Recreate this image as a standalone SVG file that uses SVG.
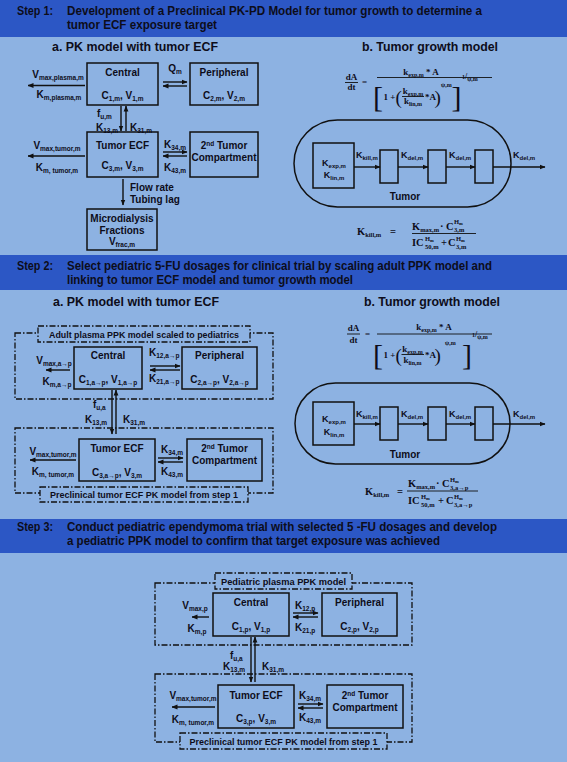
<svg xmlns="http://www.w3.org/2000/svg" width="567" height="762" viewBox="0 0 567 762">
<defs>
<marker id="ah" markerWidth="6" markerHeight="6" refX="5.5" refY="3" orient="auto" markerUnits="userSpaceOnUse"><path d="M0,0.6 L6,3 L0,5.4 z" fill="#111"/></marker>
<style>
.bg{fill:#8DB2E2}
.hd{fill:#2C57C5}
text{font-family:"Liberation Sans",Arial,sans-serif;font-weight:bold;fill:#0D0D1A}
.h{font-size:12.5px}
.p{font-size:12.5px}
.L{font-size:10px}
.s{font-size:6.5px}
.k{font-size:9px}
.ks{font-size:6px}
.M{font-family:"Liberation Serif","Times New Roman",serif;font-size:9px}
.ms{font-size:6px}
.E{font-family:"Liberation Serif","Times New Roman",serif;font-size:10.5px}
.es{font-size:6.5px}
.br{font-family:"Liberation Serif","Times New Roman",serif;font-weight:normal}
.bx{fill:none;stroke:#111;stroke-width:1.5}
.dd{fill:none;stroke:#111;stroke-width:1.3;stroke-dasharray:6 2 1.5 2}
.lb{fill:#8DB2E2;stroke:#111;stroke-width:1.3;stroke-dasharray:6 2 1.5 2}
.ar{stroke:#111;stroke-width:1.4;fill:none;marker-end:url(#ah)}
.bar{stroke:#111;stroke-width:0.9}
.tm{fill:none;stroke:#111;stroke-width:1.5}
</style>
</defs>
<rect class="bg" x="0" y="0" width="567" height="762"/>
<!-- headers -->
<g id="step1-header">
<rect class="hd" x="0" y="0" width="567" height="37"/>
<text class="h" x="17" y="15" textLength="36" lengthAdjust="spacingAndGlyphs">Step 1:</text>
<text class="h" x="67" y="15" textLength="415" lengthAdjust="spacingAndGlyphs">Development of a Preclinical PK-PD Model for tumor growth to determine a</text>
<text class="h" x="67" y="29" textLength="150" lengthAdjust="spacingAndGlyphs">tumor ECF exposure target</text>
</g>
<g id="step2-header">
<rect class="hd" x="0" y="255" width="567" height="35"/>
<text class="h" x="17" y="270" textLength="36" lengthAdjust="spacingAndGlyphs">Step 2:</text>
<text class="h" x="67" y="270" textLength="425" lengthAdjust="spacingAndGlyphs">Select pediatric 5-FU dosages for clinical trial by scaling adult PPK model and</text>
<text class="h" x="67" y="284" textLength="286" lengthAdjust="spacingAndGlyphs">linking to tumor ECF model and tumor growth model</text>
</g>
<g id="step3-header">
<rect class="hd" x="0" y="519" width="567" height="34"/>
<text class="h" x="17" y="531" textLength="36" lengthAdjust="spacingAndGlyphs">Step 3:</text>
<text class="h" x="67" y="531" textLength="430" lengthAdjust="spacingAndGlyphs">Conduct pediatric ependymoma trial with selected 5 -FU dosages and develop</text>
<text class="h" x="67" y="545" textLength="373" lengthAdjust="spacingAndGlyphs">a pediatric PPK model to confirm that target exposure was achieved</text>
</g>
<!-- panel titles -->
<text class="p" x="52" y="51" textLength="166" lengthAdjust="spacingAndGlyphs">a. PK model with tumor ECF</text>
<text class="p" x="362" y="51" textLength="136" lengthAdjust="spacingAndGlyphs">b. Tumor growth model</text>
<text class="p" x="53" y="306" textLength="166" lengthAdjust="spacingAndGlyphs">a. PK model with tumor ECF</text>
<text class="p" x="364" y="306" textLength="136" lengthAdjust="spacingAndGlyphs">b. Tumor growth model</text>

<!-- ================= STEP 1 LEFT ================= -->
<g id="s1-central">
<rect class="bx" x="87" y="63" width="71" height="42"/>
<text class="L" x="122.5" y="76" text-anchor="middle">Central</text>
<text class="L" x="122.5" y="99" text-anchor="middle">C<tspan class="s" dy="2">1,m</tspan><tspan dy="-2">, V</tspan><tspan class="s" dy="2">1,m</tspan></text>
</g>
<g id="s1-peripheral">
<rect class="bx" x="190" y="63" width="68" height="42"/>
<text class="L" x="224" y="76" text-anchor="middle">Peripheral</text>
<text class="L" x="224" y="99" text-anchor="middle">C<tspan class="s" dy="2">2,m</tspan><tspan dy="-2">, V</tspan><tspan class="s" dy="2">2,m</tspan></text>
</g>
<g id="s1-tumorecf">
<rect class="bx" x="87" y="132" width="71" height="45"/>
<text class="L" x="122.5" y="149" text-anchor="middle">Tumor ECF</text>
<text class="L" x="122.5" y="169" text-anchor="middle">C<tspan class="s" dy="2">3,m</tspan><tspan dy="-2">, V</tspan><tspan class="s" dy="2">3,m</tspan></text>
</g>
<g id="s1-tumor2">
<rect class="bx" x="190" y="132" width="68" height="45"/>
<text class="L" x="224" y="149" text-anchor="middle">2<tspan class="s" dy="-3.5">nd</tspan><tspan dy="3.5"> Tumor</tspan></text>
<text class="L" x="224" y="161" text-anchor="middle">Compartment</text>
</g>
<g id="s1-microdialysis">
<rect class="bx" x="87" y="209" width="70" height="41"/>
<text class="L" x="122" y="222" text-anchor="middle">Microdialysis</text>
<text class="L" x="122" y="234" text-anchor="middle">Fractions</text>
<text class="L" x="122" y="245" text-anchor="middle">V<tspan class="s" dy="2">frac,m</tspan></text>
</g>
<g id="s1-connectors">
<line class="ar" x1="163" y1="82" x2="187" y2="82"/>
<line class="ar" x1="187" y1="86" x2="163" y2="86"/>
<line class="ar" x1="85" y1="85.5" x2="28" y2="85.5"/>
<line class="ar" x1="121" y1="106" x2="121" y2="131"/>
<line class="ar" x1="126" y1="131" x2="126" y2="106"/>
<line class="ar" x1="163" y1="152" x2="187" y2="152"/>
<line class="ar" x1="187" y1="156" x2="163" y2="156"/>
<line class="ar" x1="85" y1="156" x2="28" y2="156"/>
<line class="ar" x1="123" y1="179" x2="123" y2="205"/>
</g>
<g id="s1-labels">
<text class="L" x="175" y="72" text-anchor="middle">Q<tspan class="s" dy="2">m</tspan></text>
<text class="L" x="58" y="78" text-anchor="middle">V<tspan class="s" dy="2">max,plasma,m</tspan></text>
<text class="L" x="59" y="98" text-anchor="middle">K<tspan class="s" dy="2">m,plasma,m</tspan></text>
<text class="L" x="97" y="117">f<tspan class="s" dy="2">u,m</tspan></text>
<text class="L" x="96" y="131">K<tspan class="s" dy="2">13,m</tspan></text>
<text class="L" x="130" y="131">K<tspan class="s" dy="2">31,m</tspan></text>
<text class="L" x="164" y="148">K<tspan class="s" dy="2">34,m</tspan></text>
<text class="L" x="164" y="171">K<tspan class="s" dy="2">43,m</tspan></text>
<text class="L" x="57" y="149" text-anchor="middle">V<tspan class="s" dy="2">max,tumor,m</tspan></text>
<text class="L" x="57" y="171" text-anchor="middle">K<tspan class="s" dy="2">m, tumor,m</tspan></text>
<text class="L" x="130" y="191">Flow rate</text>
<text class="L" x="130" y="203">Tubing lag</text>
</g>

<!-- ================= STEP 1 RIGHT ================= -->
<g id="s1-equation">
<text class="M" x="351.5" y="80" text-anchor="middle">dA</text>
<line class="bar" x1="345" y1="82.5" x2="358" y2="82.5"/>
<text class="M" x="351.5" y="90" text-anchor="middle">dt</text>
<text class="M" x="362" y="85">=</text>
<text class="M" x="421" y="75" text-anchor="middle">k<tspan class="ms" dy="1.5">exp,m</tspan><tspan dy="-1.5"> * A</tspan></text>
<line class="bar" x1="377" y1="77.5" x2="492" y2="77.5"/>
<text class="br" x="373" y="106.6" font-size="30">[</text>
<text class="M" x="383.5" y="100">1 +</text>
<text class="br" x="395.5" y="103.5" font-size="19">(</text>
<text class="M" x="413" y="94" text-anchor="middle">k<tspan class="ms" dy="1.5">exp,m</tspan></text>
<line class="bar" x1="402" y1="96.5" x2="424" y2="96.5"/>
<text class="M" x="413" y="104" text-anchor="middle">k<tspan class="ms" dy="1.5">lin,m</tspan></text>
<text class="M" x="425" y="100" font-size="8">*A</text>
<text class="br" x="434.5" y="103.5" font-size="19">)</text>
<text class="M ms" x="441" y="87">ψ,m</text>
<text class="br" x="451.5" y="106.6" font-size="30">]</text>
<text class="M" x="462" y="79"><tspan class="ms">1</tspan><tspan font-size="8">/</tspan><tspan class="ms" dy="1.5">ψ,m</tspan></text>
</g>
<g id="s1-tumor">
<rect class="tm" x="294" y="120" width="217" height="87" rx="43.5"/>
<text class="L" x="405" y="200" text-anchor="middle">Tumor</text>
</g>
<g id="s1-kexp">
<rect class="bx" x="313" y="143" width="41" height="45"/>
<text class="k" x="334" y="166" text-anchor="middle">K<tspan class="ks" dy="2">exp,m</tspan></text>
<text class="k" x="334" y="178" text-anchor="middle">K<tspan class="ks" dy="2">lin,m</tspan></text>
</g>
<g id="s1-transit1"><rect class="bx" x="380" y="150" width="18" height="33"/></g>
<g id="s1-transit2"><rect class="bx" x="428" y="150" width="18" height="33"/></g>
<g id="s1-transit3"><rect class="bx" x="475" y="150" width="18" height="33"/></g>
<g id="s1-tumor-connectors">
<line class="ar" x1="354" y1="167" x2="380" y2="167"/>
<line class="ar" x1="398" y1="167" x2="428" y2="167"/>
<line class="ar" x1="446" y1="167" x2="475" y2="167"/>
<line class="ar" x1="493" y1="167" x2="545" y2="167"/>
<text class="k" x="356" y="158">K<tspan class="ks" dy="2">kill,m</tspan></text>
<text class="k" x="401" y="158">K<tspan class="ks" dy="2">del,m</tspan></text>
<text class="k" x="449" y="158">K<tspan class="ks" dy="2">del,m</tspan></text>
<text class="k" x="513" y="158">K<tspan class="ks" dy="2">del,m</tspan></text>
</g>
<g id="s1-kkill">
<text class="E" x="357" y="235">K<tspan class="es" dy="2">kill,m</tspan></text>
<text class="E" x="390" y="235">=</text>
<text class="E" x="412" y="229.5">K<tspan class="es" dy="2">max,m</tspan></text>
<text class="E" x="440" y="229.5">·</text>
<text class="E" x="446" y="229.5">C</text>
<text class="E es" x="454" y="224">H<tspan font-size="4.5" dy="1">m</tspan></text>
<text class="E es" x="454" y="232">3,m</text>
<line class="bar" x1="412" y1="233.5" x2="476" y2="233.5"/>
<text class="E" x="412" y="246">IC</text>
<text class="E es" x="425" y="240.5">H<tspan font-size="4.5" dy="1">m</tspan></text>
<text class="E es" x="425" y="248.5">50,m</text>
<text class="E" x="441" y="246">+</text>
<text class="E" x="448" y="246">C</text>
<text class="E es" x="456" y="240.5">H<tspan font-size="4.5" dy="1">m</tspan></text>
<text class="E es" x="456" y="248.5">3,m</text>
</g>

<!-- ================= STEP 2 LEFT ================= -->
<g id="s2-adult-group">
<rect class="dd" x="15" y="333" width="258" height="66"/>
<rect class="lb" x="38" y="326" width="212" height="16"/>
<text x="144" y="337.5" text-anchor="middle" font-size="9.5" textLength="190" lengthAdjust="spacingAndGlyphs">Adult plasma PPK model scaled to pediatrics</text>
</g>
<g id="s2-central">
<rect class="bx" x="74" y="347" width="68" height="42"/>
<text class="L" x="108" y="359" text-anchor="middle">Central</text>
<text class="L" x="108" y="383" text-anchor="middle">C<tspan class="s" dy="2">1,a→p</tspan><tspan dy="-2">, V</tspan><tspan class="s" dy="2">1,a→p</tspan></text>
</g>
<g id="s2-peripheral">
<rect class="bx" x="182" y="347" width="75" height="42"/>
<text class="L" x="219.5" y="359" text-anchor="middle">Peripheral</text>
<text class="L" x="219.5" y="383" text-anchor="middle">C<tspan class="s" dy="2">2,a→p</tspan><tspan dy="-2">, V</tspan><tspan class="s" dy="2">2,a→p</tspan></text>
</g>
<g id="s2-ecf-group">
<rect class="dd" x="15" y="428" width="258" height="65"/>
<rect class="lb" x="40" y="487" width="208" height="15"/>
<text x="144" y="498" text-anchor="middle" font-size="9.5" textLength="188" lengthAdjust="spacingAndGlyphs">Preclinical tumor ECF PK model from step 1</text>
</g>
<g id="s2-tumorecf">
<rect class="bx" x="79" y="439" width="76" height="42"/>
<text class="L" x="117" y="452" text-anchor="middle">Tumor ECF</text>
<text class="L" x="117" y="476" text-anchor="middle">C<tspan class="s" dy="2">3,a→p</tspan><tspan dy="-2">, V</tspan><tspan class="s" dy="2">3,m</tspan></text>
</g>
<g id="s2-tumor2">
<rect class="bx" x="187" y="439" width="75" height="42"/>
<text class="L" x="224.5" y="452" text-anchor="middle">2<tspan class="s" dy="-3.5">nd</tspan><tspan dy="3.5"> Tumor</tspan></text>
<text class="L" x="224.5" y="464" text-anchor="middle">Compartment</text>
</g>
<g id="s2-connectors">
<line class="ar" x1="150" y1="366" x2="180" y2="366"/>
<line class="ar" x1="180" y1="370" x2="150" y2="370"/>
<line class="ar" x1="70" y1="370" x2="46" y2="370"/>
<line class="ar" x1="112" y1="390" x2="112" y2="434"/>
<line class="ar" x1="116" y1="434" x2="116" y2="390"/>
<line class="ar" x1="158" y1="458" x2="183" y2="458"/>
<line class="ar" x1="183" y1="462" x2="158" y2="462"/>
<line class="ar" x1="76" y1="460" x2="30" y2="460"/>
</g>
<g id="s2-labels">
<text class="L" x="149" y="356">K<tspan class="s" dy="2">12,a→p</tspan></text>
<text class="L" x="149" y="382">K<tspan class="s" dy="2">21,a→p</tspan></text>
<text class="L" x="54" y="364" text-anchor="middle">V<tspan class="s" dy="2">max,a→p</tspan></text>
<text class="L" x="57" y="385" text-anchor="middle">K<tspan class="s" dy="2">m,a→p</tspan></text>
<text class="L" x="93" y="408">f<tspan class="s" dy="2">u,a</tspan></text>
<text class="L" x="85" y="423">K<tspan class="s" dy="2">13,m</tspan></text>
<text class="L" x="123" y="423">K<tspan class="s" dy="2">31,m</tspan></text>
<text class="L" x="161" y="453">K<tspan class="s" dy="2">34,m</tspan></text>
<text class="L" x="161" y="475">K<tspan class="s" dy="2">43,m</tspan></text>
<text class="L" x="53" y="455" text-anchor="middle">V<tspan class="s" dy="2">max,tumor,m</tspan></text>
<text class="L" x="53" y="475" text-anchor="middle">K<tspan class="s" dy="2">m, tumor,m</tspan></text>
</g>

<!-- ================= STEP 2 RIGHT ================= -->
<g id="s2-equation">
<text class="M" x="353.5" y="331" text-anchor="middle">dA</text>
<line class="bar" x1="347" y1="334" x2="360" y2="334"/>
<text class="M" x="353.5" y="343" text-anchor="middle">dt</text>
<text class="M" x="365" y="337">=</text>
<text class="M" x="434" y="330" text-anchor="middle">k<tspan class="ms" dy="1.5">exp,m</tspan><tspan dy="-1.5"> * A</tspan></text>
<line class="bar" x1="377" y1="334" x2="492" y2="334"/>
<text class="br" x="373" y="364.6" font-size="30">[</text>
<text class="M" x="383.5" y="358">1 +</text>
<text class="br" x="395.5" y="362" font-size="19">(</text>
<text class="M" x="412.5" y="352" text-anchor="middle">k<tspan class="ms" dy="1.5">exp,m</tspan></text>
<line class="bar" x1="401.5" y1="354.5" x2="424" y2="354.5"/>
<text class="M" x="412.5" y="363" text-anchor="middle">k<tspan class="ms" dy="1.5">lin,m</tspan></text>
<text class="M" x="425" y="358" font-size="8">*A</text>
<text class="br" x="434.5" y="362" font-size="19">)</text>
<text class="M ms" x="445" y="345">ψ,m</text>
<text class="br" x="462" y="364.6" font-size="30">]</text>
<text class="M" x="472" y="337"><tspan class="ms">1</tspan><tspan font-size="8">/</tspan><tspan class="ms" dy="1.5">ψ,m</tspan></text>
</g>
<g id="s2-tumor">
<rect class="tm" x="295" y="383" width="215" height="81" rx="40.5"/>
<text class="L" x="405" y="458" text-anchor="middle">Tumor</text>
</g>
<g id="s2-kexp">
<rect class="bx" x="313" y="402" width="41" height="43"/>
<text class="k" x="334" y="422" text-anchor="middle">K<tspan class="ks" dy="2">exp,m</tspan></text>
<text class="k" x="334" y="435" text-anchor="middle">K<tspan class="ks" dy="2">lin,m</tspan></text>
</g>
<g id="s2-transit1"><rect class="bx" x="380" y="407" width="18" height="33"/></g>
<g id="s2-transit2"><rect class="bx" x="428" y="407" width="18" height="33"/></g>
<g id="s2-transit3"><rect class="bx" x="475" y="407" width="18" height="33"/></g>
<g id="s2-tumor-connectors">
<line class="ar" x1="354" y1="424" x2="380" y2="424"/>
<line class="ar" x1="398" y1="424" x2="428" y2="424"/>
<line class="ar" x1="446" y1="424" x2="475" y2="424"/>
<line class="ar" x1="493" y1="424" x2="545" y2="424"/>
<text class="k" x="356" y="417">K<tspan class="ks" dy="2">kill,m</tspan></text>
<text class="k" x="401" y="417">K<tspan class="ks" dy="2">del,m</tspan></text>
<text class="k" x="449" y="417">K<tspan class="ks" dy="2">del,m</tspan></text>
<text class="k" x="513" y="417">K<tspan class="ks" dy="2">del,m</tspan></text>
</g>
<g id="s2-kkill">
<text class="E" x="365" y="495">K<tspan class="es" dy="2">kill,m</tspan></text>
<text class="E" x="397" y="495">=</text>
<text class="E" x="408" y="487">K<tspan class="es" dy="2">max,m</tspan></text>
<text class="E" x="436" y="487">·</text>
<text class="E" x="442" y="487">C</text>
<text class="E es" x="450" y="482">H<tspan font-size="4.5" dy="1">m</tspan></text>
<text class="E es" x="450" y="490">3,a→p</text>
<line class="bar" x1="407" y1="491" x2="478" y2="491"/>
<text class="E" x="408" y="504">IC</text>
<text class="E es" x="421" y="498.5">H<tspan font-size="4.5" dy="1">m</tspan></text>
<text class="E es" x="421" y="506.5">50,m</text>
<text class="E" x="438" y="504">+</text>
<text class="E" x="446" y="504">C</text>
<text class="E es" x="454" y="498.5">H<tspan font-size="4.5" dy="1">m</tspan></text>
<text class="E es" x="454" y="506.5">3,a→p</text>
</g>

<!-- ================= STEP 3 ================= -->
<g id="s3-plasma-group">
<rect class="dd" x="155" y="583" width="257" height="62"/>
<rect class="lb" x="215" y="573" width="137" height="16"/>
<text x="283.5" y="584.5" text-anchor="middle" font-size="9.5" textLength="125" lengthAdjust="spacingAndGlyphs">Pediatric plasma PPK model</text>
</g>
<g id="s3-central">
<rect class="bx" x="213" y="593" width="76" height="43"/>
<text class="L" x="251" y="606" text-anchor="middle">Central</text>
<text class="L" x="251" y="630" text-anchor="middle">C<tspan class="s" dy="2">1,p</tspan><tspan dy="-2">, V</tspan><tspan class="s" dy="2">1,p</tspan></text>
</g>
<g id="s3-peripheral">
<rect class="bx" x="322" y="593" width="75" height="43"/>
<text class="L" x="359.5" y="606" text-anchor="middle">Peripheral</text>
<text class="L" x="359.5" y="630" text-anchor="middle">C<tspan class="s" dy="2">2,p</tspan><tspan dy="-2">, V</tspan><tspan class="s" dy="2">2,p</tspan></text>
</g>
<g id="s3-ecf-group">
<rect class="dd" x="155" y="674" width="257" height="68"/>
<rect class="lb" x="180" y="733" width="207" height="16"/>
<text x="283.5" y="744.5" text-anchor="middle" font-size="9.5" textLength="188" lengthAdjust="spacingAndGlyphs">Preclinical tumor ECF PK model from step 1</text>
</g>
<g id="s3-tumorecf">
<rect class="bx" x="218" y="685" width="76" height="43"/>
<text class="L" x="256" y="699" text-anchor="middle">Tumor ECF</text>
<text class="L" x="256" y="722" text-anchor="middle">C<tspan class="s" dy="2">3,p</tspan><tspan dy="-2">, V</tspan><tspan class="s" dy="2">3,m</tspan></text>
</g>
<g id="s3-tumor2">
<rect class="bx" x="327" y="685" width="76" height="43"/>
<text class="L" x="365" y="699" text-anchor="middle">2<tspan class="s" dy="-3.5">nd</tspan><tspan dy="3.5"> Tumor</tspan></text>
<text class="L" x="365" y="711" text-anchor="middle">Compartment</text>
</g>
<g id="s3-connectors">
<line class="ar" x1="293" y1="613" x2="318" y2="613"/>
<line class="ar" x1="318" y1="617" x2="293" y2="617"/>
<line class="ar" x1="209" y1="617" x2="192" y2="617"/>
<line class="ar" x1="251" y1="637" x2="251" y2="682"/>
<line class="ar" x1="255" y1="682" x2="255" y2="637"/>
<line class="ar" x1="298" y1="704" x2="323" y2="704"/>
<line class="ar" x1="323" y1="708" x2="298" y2="708"/>
<line class="ar" x1="215" y1="707" x2="172" y2="707"/>
</g>
<g id="s3-labels">
<text class="L" x="295" y="609">K<tspan class="s" dy="2">12,p</tspan></text>
<text class="L" x="295" y="631">K<tspan class="s" dy="2">21,p</tspan></text>
<text class="L" x="195" y="609" text-anchor="middle">V<tspan class="s" dy="2">max,p</tspan></text>
<text class="L" x="197" y="632" text-anchor="middle">K<tspan class="s" dy="2">m,p</tspan></text>
<text class="L" x="230" y="659">f<tspan class="s" dy="2">u,a</tspan></text>
<text class="L" x="223" y="670">K<tspan class="s" dy="2">13,m</tspan></text>
<text class="L" x="262" y="670">K<tspan class="s" dy="2">31,m</tspan></text>
<text class="L" x="299" y="699">K<tspan class="s" dy="2">34,m</tspan></text>
<text class="L" x="299" y="721">K<tspan class="s" dy="2">43,m</tspan></text>
<text class="L" x="193" y="699" text-anchor="middle">V<tspan class="s" dy="2">max,tumor,m</tspan></text>
<text class="L" x="193" y="723" text-anchor="middle">K<tspan class="s" dy="2">m, tumor,m</tspan></text>
</g>
</svg>
